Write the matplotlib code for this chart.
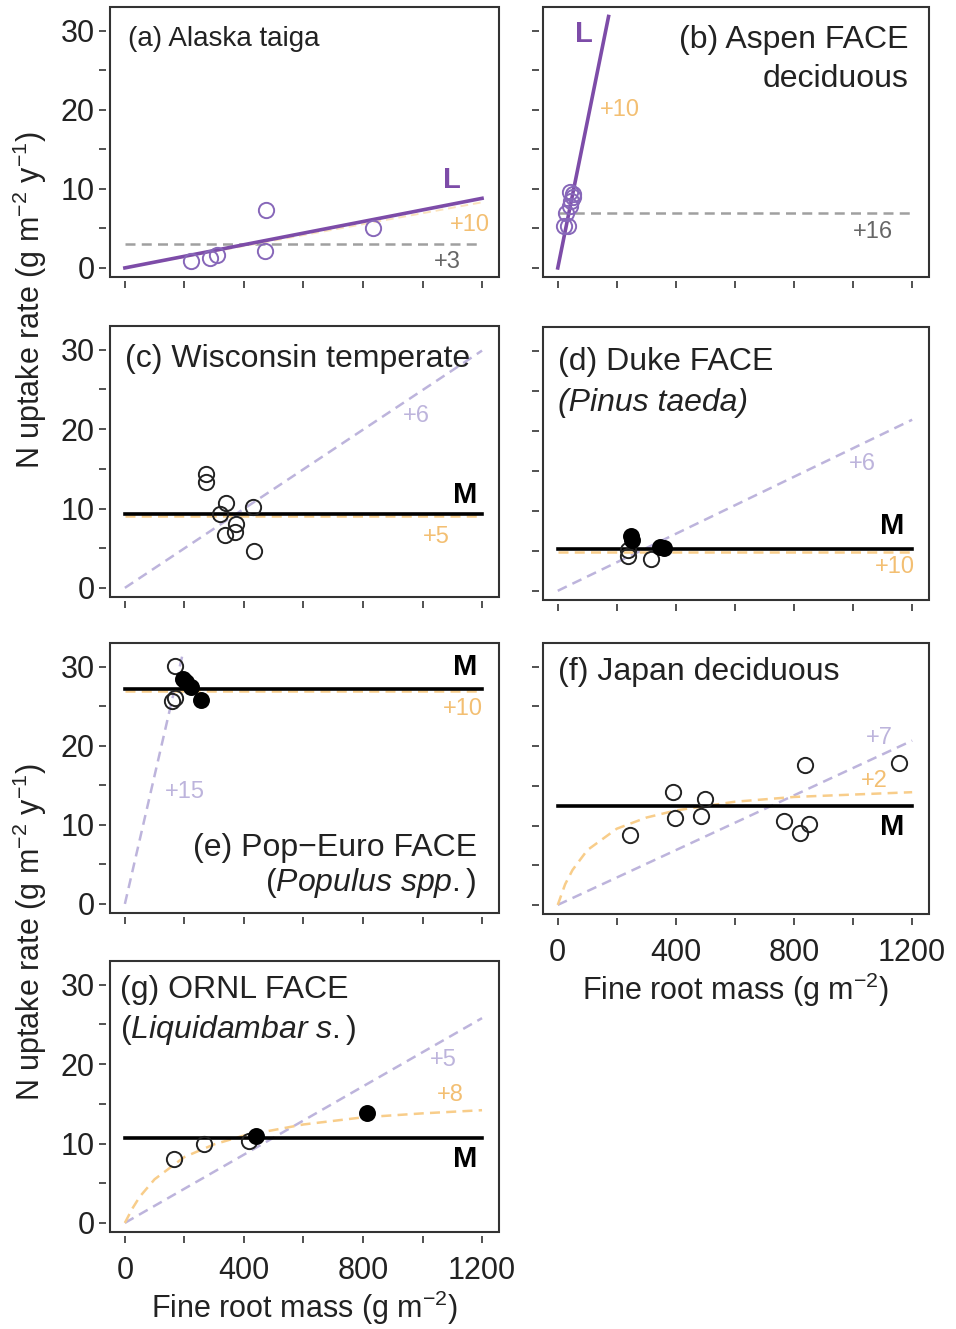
import matplotlib
matplotlib.use('Agg')
import matplotlib.pyplot as plt
from matplotlib.patches import Rectangle

plt.rcParams['font.family'] = ['Liberation Sans', 'DejaVu Sans']
plt.rcParams['mathtext.fontset'] = 'custom'
plt.rcParams['mathtext.rm'] = 'Liberation Sans'
plt.rcParams['mathtext.it'] = 'Liberation Sans:italic'
plt.rcParams['mathtext.bf'] = 'Liberation Sans:bold'

# ---- data ----
# (a) Alaska taiga
a_x = [221, 286, 308, 473, 471, 835]
a_y = [0.9, 1.2, 1.6, 7.3, 2.2, 5.1]
a_lin_x = [0, 1200]
a_lin_y = [0, 8.8]
a_sat_y = [0, 8.3]
a_null = 3.0

# (b) Aspen FACE
b_x = [20, 36, 27, 40, 45, 50, 53, 42]
b_y = [5.3, 5.3, 7.0, 7.8, 8.5, 9.0, 9.4, 9.6]
b_lin_x = [0, 172]
b_lin_y = [0, 31.8]
b_null = 6.9

# (c) Wisconsin temperate
c_x = [271, 271, 341, 318, 431, 374, 369, 336, 433]
c_y = [14.4, 13.4, 10.7, 9.3, 10.2, 8.1, 7.1, 6.6, 4.7]
c_mean = 9.3
c_sat = 9.1
c_lin_y = [0, 29.9]

# (d) Duke FACE
d_open_x = [238, 238, 316]
d_open_y = [5.1, 4.3, 4.0]
d_fill_x = [249, 252, 345, 361]
d_fill_y = [6.8, 6.3, 5.5, 5.3]
d_mean = 5.2
d_sat = 4.9
d_lin_y = [0, 21.4]

# (e) Pop-Euro FACE
e_open_x = [168, 157, 168]
e_open_y = [30.1, 25.7, 26.1]
e_fill_x = [195, 206, 223, 257]
e_fill_y = [28.5, 28.1, 27.4, 25.8]
e_mean = 27.2
e_sat = 26.9
e_lin_x = [0, 196]
e_lin_y = [0, 31.9]

# (f) Japan deciduous
f_x = [244, 391, 397, 500, 485, 765, 838, 819, 849, 1157]
f_y = [8.8, 14.2, 10.9, 13.4, 11.2, 10.6, 17.6, 9.1, 10.2, 17.9]
f_mean = 12.5
f_lin_y = [0, 20.7]
f_sat_x = [0, 25, 50, 100, 200, 300, 400, 600, 800, 1000, 1200]
f_sat_y = [0, 2.6, 4.4, 6.9, 9.6, 11.0, 11.9, 13.0, 13.6, 13.9, 14.2]

# (g) ORNL FACE
g_open_x = [166, 265, 417]
g_open_y = [8.0, 10.0, 10.3]
g_fill_x = [439, 815]
g_fill_y = [10.9, 13.9]
g_mean = 10.7
g_lin_y = [0, 25.8]
g_sat_x = [0, 25, 50, 100, 200, 300, 400, 600, 800, 1000, 1200]
g_sat_y = [0, 1.8, 3.3, 5.5, 8.3, 9.9, 11.0, 12.4, 13.3, 13.8, 14.2]

full_x = [0, 1200]

PURPLE = '#7D4CA8'
PURPLE_PT = '#8767B9'
LAV = '#BDB4DC'
ORANGE = '#F8CD8A'
ORANGE_TXT = '#F3BF72'
GRAY = '#A0A0A0'
GRAY_TXT = '#666666'
INK = '#222222'

TICK_FS = 22
TITLE_FS = 23
LABEL_FS = 22
NOTE_FS = 17

fig = plt.figure(figsize=(9.56, 13.29), dpi=100)
H = 1329.0
W = 956.0


def make_ax(left_px, top_px, right_px, bottom_px, ylab=False, xlab=False):
    ax = fig.add_axes([left_px / W, 1 - bottom_px / H,
                       (right_px - left_px) / W, (bottom_px - top_px) / H])
    ax.set_xlim(-50, 1257)
    ax.set_ylim(-1.15, 33.0)
    ax.set_xticks(range(0, 1201, 200))
    ax.set_yticks(range(0, 31, 5))
    ax.set_xticklabels(['0', '', '400', '', '800', '', '1200'] if xlab else [''] * 7)
    ax.set_yticklabels(['0', '', '10', '', '20', '', '30'] if ylab else [''] * 7)
    ax.tick_params(direction='out', length=5, width=1.2, colors='#333333',
                   labelsize=TICK_FS, labelcolor=INK)
    ax.tick_params(axis='x', pad=9)
    ax.tick_params(axis='y', pad=3)
    # R style: ticks sit a little away from the box
    for side in ['top', 'right']:
        ax.spines[side].set_visible(False)
    for side in ['bottom', 'left']:
        ax.spines[side].set_position(('outward', 3))
        ax.spines[side].set_color('none')
    ax.add_patch(Rectangle((0, 0), 1, 1, transform=ax.transAxes, fill=False,
                           ec='#333333', lw=1.5, clip_on=False, zorder=6))
    return ax


def dashed(ax, x, y, color, lw=1.8):
    ax.plot(x, y, color=color, lw=lw, dashes=(4, 2.5), zorder=2)


def open_pts(ax, x, y, color=INK):
    ax.plot(x, y, 'o', ms=11, mfc='none', mec=color, mew=1.4, zorder=4)


def fill_pts(ax, x, y):
    ax.plot(x, y, 'o', ms=11, mfc='black', mec='black', mew=1.2, zorder=5)


LX0, LX1 = 110, 499
RX0, RX1 = 543, 929

# (a)
ax = make_ax(LX0, 7, LX1, 277, ylab=True)
dashed(ax, full_x, [a_null, a_null], GRAY)
dashed(ax, a_lin_x, a_sat_y, '#FBE3BC', lw=1.4)
ax.plot(a_lin_x, a_lin_y, color=PURPLE, lw=2.6, zorder=3)
open_pts(ax, a_x, a_y, PURPLE_PT)
ax.text(10, 29.0, '(a) Alaska taiga', fontsize=20, color=INK, va='center', ha='left')
ax.text(1098, 11.1, 'L', fontsize=21, fontweight='bold', color=PURPLE, ha='center', va='center')
ax.text(1160, 5.4, '+10', fontsize=NOTE_FS, color=ORANGE_TXT, ha='center', va='center')
ax.text(1082, 0.7, '+3', fontsize=NOTE_FS, color=GRAY_TXT, ha='center', va='center')

# (b)
ax = make_ax(RX0, 7, RX1, 277)
dashed(ax, full_x, [b_null, b_null], GRAY)
ax.plot(b_lin_x, b_lin_y, color=PURPLE, lw=2.6, zorder=3)
open_pts(ax, b_x, b_y, PURPLE_PT)
ax.text(1187, 28.8, '(b) Aspen FACE', fontsize=TITLE_FS, color=INK, ha='right', va='center')
ax.text(1187, 23.9, 'deciduous', fontsize=TITLE_FS, color=INK, ha='right', va='center')
ax.text(88, 29.6, 'L', fontsize=21, fontweight='bold', color=PURPLE, ha='center', va='center')
ax.text(211, 20.0, '+10', fontsize=NOTE_FS, color=ORANGE_TXT, ha='center', va='center')
ax.text(1067, 4.5, '+16', fontsize=NOTE_FS, color=GRAY_TXT, ha='center', va='center')

# (c)
ax = make_ax(LX0, 326, LX1, 597, ylab=True)
dashed(ax, full_x, c_lin_y, LAV)
dashed(ax, full_x, [c_sat, c_sat], ORANGE)
ax.plot(full_x, [c_mean, c_mean], color='black', lw=2.6, zorder=3)
open_pts(ax, c_x, c_y)
ax.text(0, 28.9, '(c) Wisconsin temperate', fontsize=TITLE_FS, color=INK, ha='left', va='center')
ax.text(1142, 11.7, 'M', fontsize=21, fontweight='bold', color='black', ha='center', va='center')
ax.text(980, 21.7, '+6', fontsize=NOTE_FS, color=LAV, ha='center', va='center')
ax.text(1047, 6.4, '+5', fontsize=NOTE_FS, color=ORANGE_TXT, ha='center', va='center')

# (d)
ax = make_ax(RX0, 327, RX1, 600)
dashed(ax, full_x, d_lin_y, LAV)
dashed(ax, full_x, [d_sat, d_sat], ORANGE)
ax.plot(full_x, [d_mean, d_mean], color='black', lw=2.6, zorder=3)
open_pts(ax, d_open_x, d_open_y)
fill_pts(ax, d_fill_x, d_fill_y)
ax.text(0, 28.6, '(d) Duke FACE', fontsize=TITLE_FS, color=INK, ha='left', va='center')
ax.text(0, 23.5, '(Pinus taeda)', fontsize=TITLE_FS, color=INK, ha='left', va='center',
        style='italic')
ax.text(1131, 8.1, 'M', fontsize=21, fontweight='bold', color='black', ha='center', va='center')
ax.text(1030, 15.9, '+6', fontsize=NOTE_FS, color=LAV, ha='center', va='center')
ax.text(1141, 3.0, '+10', fontsize=NOTE_FS, color=ORANGE_TXT, ha='center', va='center')

# (e)
ax = make_ax(LX0, 643, LX1, 913, ylab=True)
dashed(ax, e_lin_x, e_lin_y, LAV)
dashed(ax, full_x, [e_sat, e_sat], ORANGE)
ax.plot(full_x, [e_mean, e_mean], color='black', lw=2.6, zorder=3)
open_pts(ax, e_open_x, e_open_y)
fill_pts(ax, e_fill_x, e_fill_y)
ax.text(1182, 7.1, '(e) Pop\u2212Euro FACE', fontsize=TITLE_FS, color=INK, ha='right', va='center')
ax.text(1182, 2.6, r'($\mathit{Populus\ spp.}$)', fontsize=TITLE_FS, color=INK,
        ha='right', va='center')
ax.text(1142, 30.0, 'M', fontsize=21, fontweight='bold', color='black', ha='center', va='center')
ax.text(201, 14.2, '+15', fontsize=NOTE_FS, color=LAV, ha='center', va='center')
ax.text(1137, 24.6, '+10', fontsize=NOTE_FS, color=ORANGE_TXT, ha='center', va='center')

# (f)
ax = make_ax(RX0, 643, RX1, 914, xlab=True)
dashed(ax, full_x, f_lin_y, LAV)
dashed(ax, f_sat_x, f_sat_y, ORANGE)
ax.plot(full_x, [f_mean, f_mean], color='black', lw=2.6, zorder=3)
open_pts(ax, f_x, f_y)
ax.text(0, 29.3, '(f) Japan deciduous', fontsize=TITLE_FS, color=INK, ha='left', va='center')
ax.text(1133, 9.8, 'M', fontsize=21, fontweight='bold', color='black', ha='center', va='center')
ax.text(1089, 21.0, '+7', fontsize=NOTE_FS, color=LAV, ha='center', va='center')
ax.text(1072, 15.6, '+2', fontsize=NOTE_FS, color=ORANGE_TXT, ha='center', va='center')
ax.set_xlabel(r'Fine root mass (g m$^{-2}$)', fontsize=LABEL_FS, color=INK, labelpad=2)

# (g)
ax = make_ax(LX0, 961, LX1, 1232, ylab=True, xlab=True)
dashed(ax, full_x, g_lin_y, LAV)
dashed(ax, g_sat_x, g_sat_y, ORANGE)
ax.plot(full_x, [g_mean, g_mean], color='black', lw=2.6, zorder=3)
open_pts(ax, g_open_x, g_open_y)
fill_pts(ax, g_fill_x, g_fill_y)
ax.text(-15, 29.3, '(g) ORNL FACE', fontsize=TITLE_FS, color=INK, ha='left', va='center')
ax.text(-15, 24.3, r'($\mathit{Liquidambar\ s.}$)', fontsize=TITLE_FS, color=INK,
        ha='left', va='center')
ax.text(1145, 8.1, 'M', fontsize=21, fontweight='bold', color='black', ha='center', va='center')
ax.text(1070, 20.5, '+5', fontsize=NOTE_FS, color=LAV, ha='center', va='center')
ax.text(1093, 16.1, '+8', fontsize=NOTE_FS, color=ORANGE_TXT, ha='center', va='center')
ax.set_xlabel(r'Fine root mass (g m$^{-2}$)', fontsize=LABEL_FS, color=INK, labelpad=2)

ylab = r'N uptake rate (g m$^{-2}$ y$^{-1}$)'
fig.text(30 / W, 1 - 300 / H, ylab, rotation=90, fontsize=LABEL_FS, color=INK,
         ha='center', va='center')
fig.text(30 / W, 1 - 932 / H, ylab, rotation=90, fontsize=LABEL_FS, color=INK,
         ha='center', va='center')

fig.savefig('out.png', dpi=100)
